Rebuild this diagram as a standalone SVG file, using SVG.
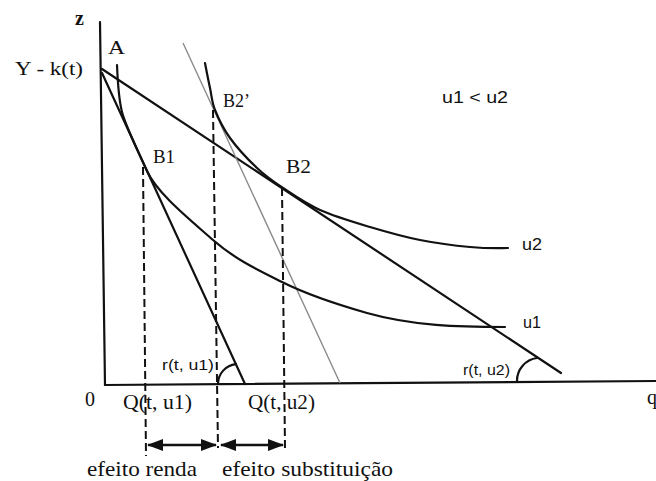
<svg xmlns="http://www.w3.org/2000/svg" width="656" height="481" viewBox="0 0 656 481">
<style>
.ln{fill:none;stroke:#111;stroke-width:2.2;stroke-linecap:round}
.gr{fill:none;stroke:#8a8a8a;stroke-width:1.4}
.ds{fill:none;stroke:#111;stroke-width:2;stroke-dasharray:8 4}
.ar{fill:none;stroke:#111;stroke-width:2.5}
.sr{font-family:"Liberation Serif","Times New Roman",serif;fill:#111}
.ss{font-family:"Liberation Sans",Arial,sans-serif;fill:#111}
</style>
<defs>
<marker id="ah" viewBox="0 0 16 12" refX="15" refY="6" markerWidth="16" markerHeight="12" markerUnits="userSpaceOnUse" orient="auto-start-reverse">
<path d="M0,0 L16,6 L0,12 z" fill="#111"/>
</marker>
</defs>
<rect width="656" height="481" fill="#fff"/>
<g id="axes">
<path class="ln" d="M100,22 L105,385 L656,381"/>
</g>
<g id="budget-lines">
<path class="ln" d="M102,69 L561,373"/>
<path class="ln" d="M102,73 L245,384"/>
<path class="gr" d="M183,43 L340,383"/>
</g>
<g id="curve-u1">
<path class="ln" d="M117,65 C117.8,85 119,100 122,112 C125,124 135,145 147,171 C157,193 188,218 213,240 C236,260 259,270.5 282,282 C310,296 339,305 367,313 C413,326 459,327 505,327"/>
</g>
<g id="curve-u2">
<path class="ln" d="M205,63 C205.8,67.2 208.3,80.2 210,88 C211.7,95.8 211.7,101.7 215,110 C218.3,118.3 223,128.3 230,138 C237,147.7 248.2,159.7 257,168 C265.8,176.3 272.5,181 283,188 C293.5,195 305.5,203.5 320,210 C334.5,216.5 353.3,222 370,227 C386.7,232 403.3,236.7 420,240 C436.7,243.3 455.3,245.7 470,247 C484.7,248.3 501.7,248.2 508,248"/>
</g>
<g id="angles">
<path class="ln" stroke-width="1.8" d="M218,384 A20,20 0 0 1 235.9,364.1"/>
<path class="ln" stroke-width="1.8" d="M517,381 A23,23 0 0 1 537,358"/>
</g>
<g id="dashed">
<path class="ds" d="M143,167 L146,456"/>
<path class="ds" d="M213,110 L218,448"/>
<path class="ds" d="M282,188 L285,448"/>
</g>
<g id="connectors">
<path class="ar" d="M148,445 L216,445" marker-start="url(#ah)" marker-end="url(#ah)"/>
<path class="ar" d="M221,445 L283,445" marker-start="url(#ah)" marker-end="url(#ah)"/>
</g>
<g id="labels">
<text class="sr" x="75" y="25" font-size="20" font-weight="bold">z</text>
<text class="sr" x="108" y="54" font-size="18" textLength="17" lengthAdjust="spacingAndGlyphs">A</text>
<text class="sr" x="15" y="75" font-size="19" textLength="68" lengthAdjust="spacingAndGlyphs">Y - k(t)</text>
<text class="sr" x="153" y="163" font-size="19" textLength="22" lengthAdjust="spacingAndGlyphs">B1</text>
<text class="sr" x="223" y="107" font-size="19" textLength="27" lengthAdjust="spacingAndGlyphs">B2’</text>
<text class="sr" x="286" y="173" font-size="19" textLength="25" lengthAdjust="spacingAndGlyphs">B2</text>
<text class="ss" x="442" y="103" font-size="16" textLength="66" lengthAdjust="spacingAndGlyphs">u1 &lt; u2</text>
<text class="ss" x="522" y="250" font-size="16" textLength="20" lengthAdjust="spacingAndGlyphs">u2</text>
<text class="ss" x="523" y="328" font-size="16" textLength="18" lengthAdjust="spacingAndGlyphs">u1</text>
<text class="ss" x="162" y="370" font-size="14" textLength="52" lengthAdjust="spacingAndGlyphs">r(t, u1)</text>
<text class="ss" x="463" y="375" font-size="14" textLength="47" lengthAdjust="spacingAndGlyphs">r(t, u2)</text>
<text class="sr" x="85" y="406" font-size="20">0</text>
<text class="sr" x="123" y="409" font-size="20" textLength="69" lengthAdjust="spacingAndGlyphs">Q(t, u1)</text>
<text class="sr" x="248" y="409" font-size="20" textLength="67" lengthAdjust="spacingAndGlyphs">Q(t, u2)</text>
<text class="sr" x="647" y="404" font-size="20">q</text>
<text class="sr" x="87" y="476" font-size="21" textLength="110" lengthAdjust="spacingAndGlyphs">efeito renda</text>
<text class="sr" x="222" y="476" font-size="21" textLength="171" lengthAdjust="spacingAndGlyphs">efeito substituição</text>
</g>
</svg>
